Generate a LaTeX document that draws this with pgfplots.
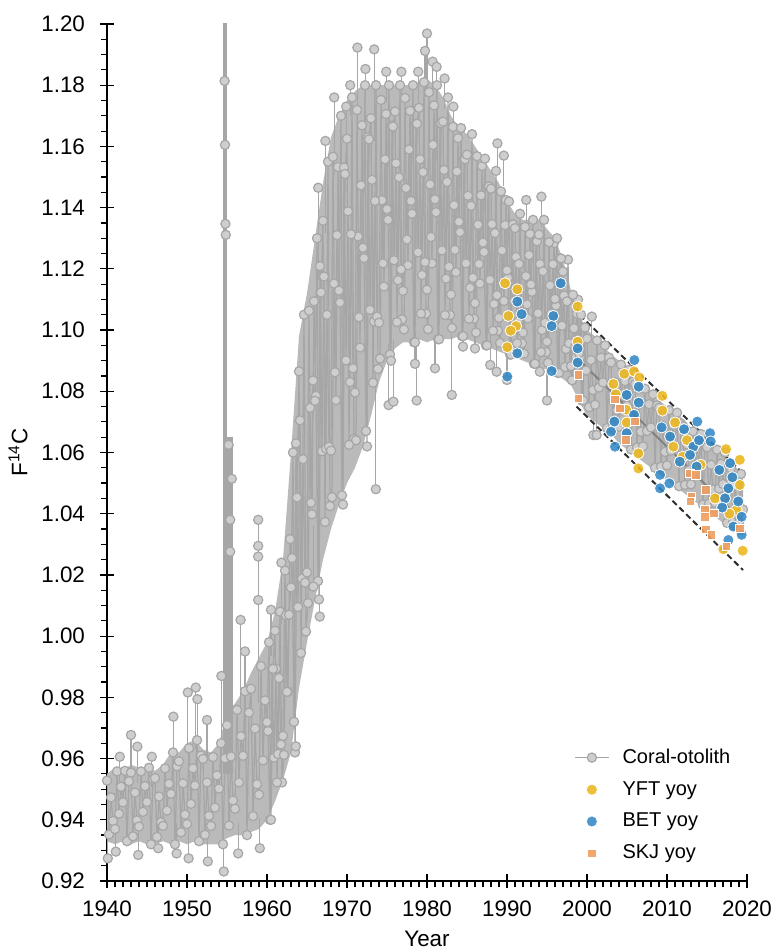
\documentclass[border=0pt]{standalone}
\usepackage{pgfplots}
\pgfplotsset{compat=1.18}
\usepackage{pgfplotstable}
\usepgfplotslibrary{fillbetween}
\usepackage{fontspec}
\setmainfont{Liberation Sans}
\definecolor{cgrey}{RGB}{166,166,166}
\definecolor{cfill}{RGB}{206,206,206}
\definecolor{blob}{RGB}{186,186,186}
\definecolor{yft}{RGB}{236,184,36}
\definecolor{bet}{RGB}{45,133,196}
\definecolor{skj}{RGB}{240,158,96}
\definecolor{regl}{RGB}{130,130,130}
\definecolor{dashc}{RGB}{45,45,45}

\pgfplotstableread[row sep=\\]{
x lo hi\\
1940 0.933 0.955\\ 1941 0.932 0.957\\ 1942 0.933 0.956\\ 1943 0.932 0.958\\
1944 0.933 0.957\\ 1945 0.932 0.957\\ 1946 0.932 0.956\\ 1947 0.933 0.958\\
1948 0.932 0.962\\ 1949 0.933 0.962\\ 1950 0.932 0.965\\ 1951 0.933 0.966\\
1952 0.932 0.963\\ 1953 0.932 0.962\\ 1954 0.932 0.965\\ 1955 0.934 0.975\\
1956 0.935 0.978\\ 1957 0.935 0.982\\ 1958 0.936 0.988\\ 1959 0.937 0.993\\
1960 0.940 0.998\\ 1961 0.946 1.008\\ 1962 0.953 1.025\\ 1963 0.962 1.060\\
1964 0.983 1.098\\ 1965 0.998 1.112\\ 1966 1.012 1.130\\ 1967 1.025 1.148\\
1968 1.035 1.163\\ 1969 1.043 1.170\\ 1970 1.050 1.175\\ 1971 1.055 1.178\\
1972 1.062 1.180\\ 1973 1.072 1.180\\ 1974 1.083 1.180\\ 1975 1.090 1.180\\
1976 1.094 1.180\\ 1977 1.096 1.180\\ 1978 1.096 1.180\\ 1979 1.097 1.181\\
1980 1.096 1.182\\ 1981 1.097 1.180\\ 1982 1.097 1.176\\ 1983 1.097 1.170\\
1984 1.098 1.166\\ 1985 1.097 1.164\\ 1986 1.096 1.160\\ 1987 1.095 1.156\\
1988 1.094 1.152\\ 1989 1.093 1.148\\ 1990 1.092 1.142\\ 1991 1.091 1.138\\
1992 1.090 1.136\\ 1993 1.089 1.136\\ 1994 1.088 1.136\\ 1995 1.087 1.133\\
1996 1.086 1.130\\ 1997 1.084 1.123\\ 1998 1.082 1.113\\ 1999 1.077 1.105\\
2000 1.072 1.100\\ 2001 1.070 1.098\\ 2002 1.068 1.095\\ 2003 1.066 1.092\\
2004 1.063 1.090\\ 2005 1.061 1.087\\ 2006 1.059 1.085\\ 2007 1.057 1.082\\
2008 1.055 1.079\\ 2009 1.053 1.077\\ 2010 1.051 1.075\\ 2011 1.049 1.073\\
2012 1.047 1.071\\ 2013 1.045 1.068\\ 2014 1.043 1.066\\ 2015 1.041 1.064\\
2016 1.039 1.062\\ 2017 1.037 1.060\\ 2018 1.035 1.057\\ 2019 1.033 1.054\\
2019.5 1.033 1.052\\
}\envtab

\pgfplotstableread[row sep=\\]{
x y\\
1940.00 .9528\\ 1940.25 .9352\\ 1940.50 .9473\\ 1940.75 .9396\\
1941.00 .9370\\ 1941.25 .9558\\ 1941.50 .9420\\ 1941.75 .9508\\
1942.00 .9457\\ 1942.25 .9560\\ 1942.50 .9330\\ 1942.75 .9526\\
1943.00 .9554\\ 1943.25 .9346\\ 1943.50 .9489\\ 1943.75 .9398\\
1944.00 .9378\\ 1944.25 .9558\\ 1944.50 .9426\\ 1944.75 .9510\\
1945.00 .9458\\ 1945.25 .9570\\ 1945.50 .9320\\ 1945.75 .9533\\
1946.00 .9536\\ 1946.25 .9344\\ 1946.50 .9476\\ 1946.75 .9392\\
1947.00 .9380\\ 1947.25 .9568\\ 1947.50 .9430\\ 1947.75 .9518\\
1948.00 .9485\\ 1948.25 .9620\\ 1948.50 .9320\\ 1948.75 .9575\\
1949.00 .9591\\ 1949.25 .9359\\ 1949.50 .9519\\ 1949.75 .9417\\
1950.00 .9386\\ 1950.25 .9634\\ 1950.50 .9452\\ 1950.75 .9568\\
1951.00 .9512\\ 1951.25 .9660\\ 1951.50 .9330\\ 1951.75 .9610\\
1952.00 .9599\\ 1952.25 .9351\\ 1952.50 .9522\\ 1952.75 .9413\\
1953.00 .9380\\ 1953.25 .9605\\ 1953.50 .9440\\ 1953.75 .9545\\
1954.00 .9502\\ 1954.25 .9650\\ 1954.50 .9320\\ 1954.75 .9601\\
1955.00 .9709\\ 1955.25 .9381\\ 1955.50 .9607\\ 1955.75 .9463\\
1956.00 .9436\\ 1956.25 .9759\\ 1956.50 .9522\\ 1956.75 .9673\\
1957.00 .9609\\ 1957.25 .9820\\ 1957.50 .9350\\ 1957.75 .9750\\
1958.00 .9828\\ 1958.25 .9412\\ 1958.50 .9698\\ 1958.75 .9516\\
1959.00 .9482\\ 1959.25 .9902\\ 1959.50 .9594\\ 1959.75 .9790\\
1960.00 .9719\\ 1960.25 .9980\\ 1960.50 .9400\\ 1960.75 .9893\\
1961.00 1.0018\\ 1961.25 .9522\\ 1961.50 .9863\\ 1961.75 .9646\\
1962.00 .9674\\ 1962.25 1.0214\\ 1962.50 .9818\\ 1962.75 1.0070\\
1963.00 1.0159\\ 1963.25 1.0600\\ 1963.50 .9620\\ 1963.75 1.0453\\
1964.00 1.0865\\ 1964.25 .9945\\ 1964.50 1.0578\\ 1964.75 1.0175\\
1965.00 1.0208\\ 1965.25 1.1063\\ 1965.50 1.0436\\ 1965.75 1.0835\\
1966.00 1.0769\\ 1966.25 1.1300\\ 1966.50 1.0120\\ 1966.75 1.1123\\
1967.00 1.1357\\ 1967.25 1.0373\\ 1967.50 1.1050\\ 1967.75 1.0619\\
1968.00 1.0606\\ 1968.25 1.1566\\ 1968.50 1.0862\\ 1968.75 1.1310\\
1969.00 1.1129\\ 1969.25 1.1700\\ 1969.50 1.0430\\ 1969.75 1.1510\\
1970.00 1.1625\\ 1970.25 1.0625\\ 1970.50 1.1313\\ 1970.75 1.0875\\
1971.00 1.0796\\ 1971.25 1.1719\\ 1971.50 1.1042\\ 1971.75 1.1473\\
1972.00 1.1269\\ 1972.25 1.1800\\ 1972.50 1.0620\\ 1972.75 1.1623\\
1973.00 1.1692\\ 1973.25 1.0828\\ 1973.50 1.1422\\ 1973.75 1.1044\\
1974.00 1.1024\\ 1974.25 1.1752\\ 1974.50 1.1218\\ 1974.75 1.1558\\
1975.00 1.1395\\ 1975.25 1.1800\\ 1975.50 1.0900\\ 1975.75 1.1665\\
1976.00 1.1714\\ 1976.25 1.1026\\ 1976.50 1.1499\\ 1976.75 1.1198\\
1977.00 1.1128\\ 1977.25 1.1758\\ 1977.50 1.1296\\ 1977.75 1.1590\\
1978.00 1.1422\\ 1978.25 1.1800\\ 1978.50 1.0960\\ 1978.75 1.1674\\
1979.00 1.1726\\ 1979.25 1.1054\\ 1979.50 1.1516\\ 1979.75 1.1222\\
1980.00 1.1132\\ 1980.25 1.1777\\ 1980.50 1.1304\\ 1980.75 1.1605\\
1981.00 1.1427\\ 1981.25 1.1800\\ 1981.50 1.0970\\ 1981.75 1.1676\\
1982.00 1.1681\\ 1982.25 1.1049\\ 1982.50 1.1484\\ 1982.75 1.1207\\
1983.00 1.1116\\ 1983.25 1.1664\\ 1983.50 1.1262\\ 1983.75 1.1518\\
1984.00 1.1354\\ 1984.25 1.1660\\ 1984.50 1.0980\\ 1984.75 1.1558\\
1985.00 1.1573\\ 1985.25 1.1037\\ 1985.50 1.1406\\ 1985.75 1.1171\\
1986.00 1.1088\\ 1986.25 1.1568\\ 1986.50 1.1216\\ 1986.75 1.1440\\
1987.00 1.1286\\ 1987.25 1.1560\\ 1987.50 1.0950\\ 1987.75 1.1469\\
1988.00 1.1462\\ 1988.25 1.0998\\ 1988.50 1.1317\\ 1988.75 1.1114\\
1989.00 1.1040\\ 1989.25 1.1453\\ 1989.50 1.1150\\ 1989.75 1.1343\\
1990.00 1.1195\\ 1990.25 1.1420\\ 1990.50 1.0920\\ 1990.75 1.1345\\
1991.00 1.1333\\ 1991.25 1.0957\\ 1991.50 1.1216\\ 1991.75 1.1051\\
1992.00 1.0992\\ 1992.25 1.1337\\ 1992.50 1.1084\\ 1992.75 1.1245\\
1993.00 1.1149\\ 1993.25 1.1360\\ 1993.50 1.0890\\ 1993.75 1.1290\\
1994.00 1.1312\\ 1994.25 1.0928\\ 1994.50 1.1192\\ 1994.75 1.1024\\
1995.00 1.0962\\ 1995.25 1.1287\\ 1995.50 1.1054\\ 1995.75 1.1215\\
1996.00 1.1102\\ 1996.25 1.1300\\ 1996.50 1.0860\\ 1996.75 1.1234\\
1997.00 1.1191\\ 1997.25 1.0879\\ 1997.50 1.1094\\ 1997.75 1.0957\\
1998.00 1.0882\\ 1998.25 1.1115\\ 1998.50 1.0944\\ 1998.75 1.1053\\
1999.00 1.0924\\ 1999.25 1.1050\\ 1999.50 1.0770\\ 1999.75 1.1008\\
2000.00 1.0972\\ 2000.25 1.0748\\ 2000.50 1.0902\\ 2000.75 1.0804\\
2001.00 1.0756\\ 2001.25 1.0966\\ 2001.50 1.0812\\ 2001.75 1.0910\\
2002.00 1.0829\\ 2002.25 1.0950\\ 2002.50 1.0680\\ 2002.75 1.0910\\
2003.00 1.0894\\ 2003.25 1.0686\\ 2003.50 1.0829\\ 2003.75 1.0738\\
2004.00 1.0684\\ 2004.25 1.0887\\ 2004.50 1.0738\\ 2004.75 1.0833\\
2005.00 1.0753\\ 2005.25 1.0870\\ 2005.50 1.0610\\ 2005.75 1.0831\\
2006.00 1.0824\\ 2006.25 1.0616\\ 2006.50 1.0759\\ 2006.75 1.0668\\
2007.00 1.0620\\ 2007.25 1.0808\\ 2007.50 1.0670\\ 2007.75 1.0758\\
2008.00 1.0682\\ 2008.25 1.0790\\ 2008.50 1.0550\\ 2008.75 1.0754\\
2009.00 1.0746\\ 2009.25 1.0554\\ 2009.50 1.0686\\ 2009.75 1.0602\\
2010.00 1.0558\\ 2010.25 1.0738\\ 2010.50 1.0606\\ 2010.75 1.0690\\
2011.00 1.0622\\ 2011.25 1.0730\\ 2011.50 1.0490\\ 2011.75 1.0694\\
2012.00 1.0686\\ 2012.25 1.0494\\ 2012.50 1.0626\\ 2012.75 1.0542\\
2013.00 1.0496\\ 2013.25 1.0669\\ 2013.50 1.0542\\ 2013.75 1.0623\\
2014.00 1.0557\\ 2014.25 1.0660\\ 2014.50 1.0430\\ 2014.75 1.0626\\
2015.00 1.0617\\ 2015.25 1.0433\\ 2015.50 1.0560\\ 2015.75 1.0479\\
2016.00 1.0436\\ 2016.25 1.0609\\ 2016.50 1.0482\\ 2016.75 1.0563\\
2017.00 1.0497\\ 2017.25 1.0600\\ 2017.50 1.0370\\ 2017.75 1.0566\\
2018.00 1.0548\\ 2018.25 1.0372\\ 2018.50 1.0493\\ 2018.75 1.0416\\
2019.00 1.0372\\ 2019.25 1.0530\\ 2019.50 1.0414\\
}\coral

\pgfplotstableread[row sep=\\]{
x y\\
1960.125 .9690\\ 1960.375 .9400\\ 1960.625 .9893\\ 1960.875 .9603\\
1961.125 .9894\\ 1961.375 .9615\\ 1961.625 1.0080\\ 1961.875 .9522\\
1962.125 .9612\\ 1962.375 1.0068\\ 1962.625 .9819\\ 1962.875 1.0317\\
1963.125 1.0255\\ 1963.375 .9720\\ 1963.625 1.0630\\ 1963.875 1.0095\\
1964.125 1.0705\\ 1964.375 1.0188\\ 1964.625 1.1050\\ 1964.875 1.0015\\
1965.125 1.0108\\ 1965.375 1.0746\\ 1965.625 1.0398\\ 1965.875 1.1094\\
1966.125 1.0785\\ 1966.375 1.0180\\ 1966.625 1.1209\\ 1966.875 1.0604\\
1967.125 1.1175\\ 1967.375 1.0613\\ 1967.625 1.1550\\ 1967.875 1.0425\\
1968.125 1.0454\\ 1968.375 1.1152\\ 1968.625 1.0771\\ 1968.875 1.1533\\
1969.125 1.1090\\ 1969.375 1.0460\\ 1969.625 1.1531\\ 1969.875 1.0901\\
1970.125 1.1388\\ 1970.375 1.0830\\ 1970.625 1.1760\\ 1970.875 1.0644\\
1971.125 1.0640\\ 1971.375 1.1306\\ 1971.625 1.0943\\ 1971.875 1.1669\\
1972.125 1.1235\\ 1972.375 1.0670\\ 1972.625 1.1630\\ 1972.875 1.1066\\
1973.125 1.1491\\ 1973.375 1.1028\\ 1973.625 1.1800\\ 1973.875 1.0873\\
1974.125 1.0907\\ 1974.375 1.1424\\ 1974.625 1.1142\\ 1974.875 1.1706\\
1975.125 1.1360\\ 1975.375 1.0920\\ 1975.625 1.1668\\ 1975.875 1.1228\\
1976.125 1.1545\\ 1976.375 1.1163\\ 1976.625 1.1800\\ 1976.875 1.1035\\
1977.125 1.1002\\ 1977.375 1.1464\\ 1977.625 1.1212\\ 1977.875 1.1716\\
1978.125 1.1380\\ 1978.375 1.0960\\ 1978.625 1.1674\\ 1978.875 1.1254\\
1979.125 1.1558\\ 1979.375 1.1180\\ 1979.625 1.1810\\ 1979.875 1.1054\\
1980.125 1.1003\\ 1980.375 1.1476\\ 1980.625 1.1218\\ 1980.875 1.1734\\
1981.125 1.1385\\ 1981.375 1.0970\\ 1981.625 1.1676\\ 1981.875 1.1260\\
1982.125 1.1523\\ 1982.375 1.1168\\ 1982.625 1.1760\\ 1982.875 1.1049\\
1983.125 1.1007\\ 1983.375 1.1408\\ 1983.625 1.1189\\ 1983.875 1.1627\\
1984.125 1.1320\\ 1984.375 1.0980\\ 1984.625 1.1558\\ 1984.875 1.1218\\
1985.125 1.1439\\ 1985.375 1.1138\\ 1985.625 1.1640\\ 1985.875 1.1037\\
1986.125 1.0992\\ 1986.375 1.1344\\ 1986.625 1.1152\\ 1986.875 1.1536\\
1987.125 1.1255\\ 1987.375 1.0950\\ 1987.625 1.1469\\ 1987.875 1.1164\\
1988.125 1.1346\\ 1988.375 1.1085\\ 1988.625 1.1520\\ 1988.875 1.0998\\
1989.125 1.0958\\ 1989.375 1.1260\\ 1989.625 1.1095\\ 1989.875 1.1425\\
1990.125 1.1170\\ 1990.375 1.0920\\ 1990.625 1.1345\\ 1990.875 1.1095\\
1991.125 1.1239\\ 1991.375 1.1028\\ 1991.625 1.1380\\ 1991.875 1.0957\\
1992.125 1.0923\\ 1992.375 1.1176\\ 1992.625 1.1038\\ 1992.875 1.1314\\
1993.125 1.1125\\ 1993.375 1.0890\\ 1993.625 1.1290\\ 1993.875 1.1055\\
1994.125 1.1216\\ 1994.375 1.1000\\ 1994.625 1.1360\\ 1994.875 1.0928\\
1995.125 1.0893\\ 1995.375 1.1146\\ 1995.625 1.1008\\ 1995.875 1.1284\\
1996.125 1.1080\\ 1996.375 1.0860\\ 1996.625 1.1234\\ 1996.875 1.1014\\
1997.125 1.1113\\ 1997.375 1.0938\\ 1997.625 1.1230\\ 1997.875 1.0879\\
1998.125 1.0836\\ 1998.375 1.1006\\ 1998.625 1.0913\\ 1998.875 1.1099\\
1999.125 1.0910\\ 1999.375 1.0770\\ 1999.625 1.1008\\ 1999.875 1.0868\\
}\coraltwo

\pgfplotstableread[row sep=\\]{
x y ep em\\
1940.1 0.9274 0.01 0\\ 1941.1 0.9296 0.01 0\\ 1941.6 0.9606 0 0.01\\
1943.0 0.9677 0 0.015\\ 1943.8 0.9639 0 0.012\\ 1943.9 0.9285 0.01 0\\
1945.6 0.9606 0 0.01\\ 1946.4 0.9307 0.01 0\\ 1948.3 0.9737 0 0.015\\
1948.7 0.9290 0.01 0\\ 1950.1 0.9816 0 0.02\\ 1950.2 0.9274 0.01 0\\
1951.1 0.9832 0 0.02\\ 1951.3 0.9794 0 0.015\\ 1952.5 0.9726 0 0.012\\
1952.6 0.9264 0.01 0\\ 1954.3 0.9870 0 0.025\\ 1954.6 0.9231 0.012 0\\
1954.7 1.1814 0 0\\ 1954.75 1.1605 0 0\\ 1954.8 1.1347 0 0\\
1954.85 1.1311 0 0\\ 1955.2 1.0625 0 0\\ 1955.6 1.0514 0 0.08\\
1955.4 1.0380 0 0\\ 1955.4 1.0276 0 0\\ 1956.4 0.9290 0.01 0\\
1956.7 1.0053 0 0.03\\ 1957.25 0.9950 0 0.02\\ 1958.9 1.0380 0 0.06\\
1958.9 1.0295 0 0\\ 1958.9 1.0260 0 0\\ 1958.9 1.0118 0 0\\
1959.1 0.9307 0.01 0\\ 1960.5 1.0086 0 0.015\\ 1961.8 1.0240 0 0.02\\
1963.6 0.9640 0.02 0\\ 1965.8 1.0162 0.02 0\\ 1966.6 1.0064 0.02 0\\
1966.4 1.1465 0 0.03\\ 1967.3 1.1618 0 0.03\\ 1968.4 1.1760 0 0.025\\
1969.9 1.1730 0 0.01\\ 1970.4 1.1800 0 0.01\\ 1971.3 1.1923 0 0.03\\
1972.3 1.1853 0 0.01\\ 1973.4 1.1917 0 0.03\\ 1973.6 1.0480 0.04 0\\
1974.9 1.1844 0 0.01\\ 1975.2 1.0755 0.02 0\\ 1975.8 1.0766 0.02 0\\
1976.8 1.1844 0 0.01\\ 1978.5 1.0890 0.01 0\\ 1978.7 1.0770 0.02 0\\
1978.9 1.1844 0 0.01\\ 1979.75 1.1912 0 0.015\\ 1980.0 1.1969 0 0.02\\
1980.7 1.1877 0 0.01\\ 1981.0 1.0875 0.01 0\\ 1981.2 1.1860 0 0.01\\
1982.2 1.1822 0 0.01\\ 1983.1 1.0788 0.02 0\\ 1983.3 1.1730 0 0.005\\
1984.5 1.0946 0.005 0\\ 1986.0 1.0940 0.005 0\\ 1987.9 1.0886 0.01 0\\
1988.7 1.0864 0.01 0\\ 1988.8 1.1610 0 0.01\\ 1989.6 1.1570 0 0.01\\
1990.0 1.0837 0.01 0\\ 1992.4 1.1425 0 0.01\\ 1994.1 1.0864 0.005 0\\
1994.3 1.1436 0 0.01\\ 1995.0 1.0770 0.012 0\\ 2000.6 1.1044 0 0.008\\
2000.8 1.0657 0.01 0\\ 2001.2 1.0657 0.01 0\\ 2003.3 1.0770 0 0\\
}\outl

\pgfplotstableread[row sep=\\]{
x y\\
1989.75 1.1153\\ 1991.29 1.1133\\ 1990.17 1.1046\\ 1991.13 1.1013\\
1990.46 1.0998\\ 1990.04 1.0944\\ 1998.83 1.1077\\ 1998.83 1.0962\\
2003.29 1.0824\\ 2004.67 1.0857\\ 2005.88 1.0865\\ 2006.54 1.0845\\
2003.60 1.0790\\ 2004.90 1.0740\\ 2009.42 1.0785\\ 2009.42 1.0737\\
2011.00 1.0698\\ 2004.96 1.0698\\ 2006.42 1.0597\\ 2006.42 1.0548\\
2010.80 1.0619\\ 2011.96 1.0586\\ 2017.38 1.0611\\ 2019.10 1.0576\\
2019.10 1.0494\\ 2018.70 1.0412\\ 2017.04 1.0284\\ 2019.46 1.0279\\
2012.50 1.0640\\ 2014.20 1.0560\\ 2016.00 1.0450\\ 2017.80 1.0400\\
}\yft

\pgfplotstableread[row sep=\\]{
x y\\
1996.71 1.1153\\ 1991.29 1.1093\\ 1991.83 1.1052\\ 1995.79 1.1046\\
1995.58 1.1013\\ 1991.29 1.0924\\ 1990.04 1.0848\\ 1995.58 1.0866\\
1998.83 1.0940\\ 1998.83 1.0894\\ 2005.92 1.0902\\ 2006.46 1.0815\\
2004.96 1.0788\\ 2006.46 1.0763\\ 2003.42 1.0701\\ 2003.00 1.0668\\
2004.96 1.0663\\ 2003.50 1.0619\\ 2005.88 1.0723\\ 2009.33 1.0682\\
2010.38 1.0652\\ 2012.13 1.0676\\ 2013.79 1.0701\\ 2013.29 1.0619\\
2015.38 1.0663\\ 2015.46 1.0636\\ 2016.54 1.0543\\ 2017.88 1.0565\\
2018.17 1.0519\\ 2009.13 1.0527\\ 2010.29 1.0499\\ 2009.13 1.0483\\
2013.70 1.0554\\ 2017.67 1.0483\\ 2017.25 1.0450\\ 2019.33 1.0390\\
2018.29 1.0358\\ 2019.33 1.0331\\ 2017.67 1.0314\\ 2012.88 1.0592\\
2011.60 1.0570\\ 2014.00 1.0640\\ 2016.90 1.0420\\ 2018.90 1.0440\\
}\bet

\pgfplotstableread[row sep=\\]{
x y\\
1998.96 1.0853\\ 1998.96 1.0777\\ 2003.50 1.0774\\ 2004.10 1.0744\\
2006.00 1.0701\\ 2004.88 1.0641\\ 2012.88 1.0532\\ 2013.60 1.0527\\
2014.88 1.0478\\ 2013.08 1.0456\\ 2012.96 1.0440\\ 2014.75 1.0412\\
2015.88 1.0401\\ 2014.75 1.0390\\ 2019.10 1.0352\\ 2014.88 1.0349\\
2015.58 1.0331\\ 2017.46 1.0293\\
}\skj

\begin{document}
\begin{tikzpicture}
\begin{axis}[
  scale only axis, width=320pt, height=428.5pt,
  xmin=1940, xmax=2020, ymin=0.92, ymax=1.20,
  axis x line*=bottom, axis y line*=left,
  axis line style={black, line width=0.6pt},
  xtick={1940,1950,1960,1970,1980,1990,2000,2010,2020},
  ytick={0.92,0.94,0.96,0.98,1.00,1.02,1.04,1.06,1.08,1.10,1.12,1.14,1.16,1.18,1.20},
  minor x tick num=9, minor y tick num=3,
  tick align=center,
  major tick length=7pt, minor tick length=3pt,
  every tick/.style={black, line width=0.6pt},
  minor x tick style={yshift=-1.5pt},
  minor y tick style={xshift=-1.5pt},
  tick label style={font=\fontsize{11.2}{13}\selectfont},
  /pgf/number format/assume math mode=true,
  xticklabel style={/pgf/number format/1000 sep={}, yshift=-3pt},
  yticklabel style={/pgf/number format/.cd, fixed, fixed zerofill, precision=2, /tikz/xshift=-4pt},
  xlabel={Year}, ylabel={F\textsuperscript{14}C},
  label style={font=\fontsize{11.2}{13}\selectfont},
  legend cell align=left,
  legend style={draw=none, fill=none, at={(0.72,0.164)}, anchor=north west,
    font=\fontsize{10}{12}\selectfont, row sep=3.5pt,
    /tikz/every odd column/.append style={column sep=4.5pt}},
]
\addplot[draw=none, name path=hi, forget plot] table[x=x, y=hi] {\envtab};
\addplot[draw=none, name path=lo, forget plot] table[x=x, y=lo] {\envtab};
\addplot[blob, forget plot] fill between[of=hi and lo];

\addplot[cgrey, line width=2.2pt, forget plot] coordinates {(1954.75,0.955) (1954.75,1.25)};
\addplot[cgrey, line width=3pt, forget plot] coordinates {(1955.4,0.955) (1955.4,1.065)};

\addplot[cgrey, line width=0.6pt, mark=*, mark size=2.3pt, forget plot,
  mark options={draw=cgrey, fill=cfill, line width=0.6pt}] table[x=x, y=y] {\coraltwo};

\addplot[cgrey, line width=0.6pt, mark=*, mark size=2.3pt,
  mark options={draw=cgrey, fill=cfill, line width=0.6pt}] table[x=x, y=y] {\coral};
\addlegendentry{Coral-otolith}

\addplot[only marks, mark=*, mark size=2.3pt, forget plot,
  mark options={draw=cgrey, fill=cfill, line width=0.6pt},
  error bars/.cd, y dir=both, y explicit, error mark=none,
  error bar style={cgrey, line width=0.6pt}]
  table[x=x, y=y, y error plus=ep, y error minus=em] {\outl};

\addplot[regl, line width=1pt, forget plot] coordinates {(1999.1,1.0900) (2019.5,1.0374)};
\addplot[dashc, line width=1pt, dash pattern=on 3pt off 1.8pt, forget plot]
  coordinates {(1999.1,1.1049) (2019.5,1.0532)};
\addplot[dashc, line width=1pt, dash pattern=on 3pt off 1.8pt, forget plot]
  coordinates {(1998.7,1.0750) (2019.5,1.0216)};

\addplot[only marks, mark=*, mark size=2.8pt,
  mark options={draw=white, fill=yft, line width=0.4pt, fill opacity=0.9}] table[x=x, y=y] {\yft};
\addlegendentry{YFT yoy}
\addplot[only marks, mark=*, mark size=2.8pt,
  mark options={draw=white, fill=bet, line width=0.4pt, fill opacity=0.85}] table[x=x, y=y] {\bet};
\addlegendentry{BET yoy}
\addplot[only marks, mark=square*, mark size=2.1pt,
  mark options={draw=white, fill=skj, line width=0.4pt, fill opacity=0.9}] table[x=x, y=y] {\skj};
\addlegendentry{SKJ yoy}
\end{axis}
\pgfresetboundingbox
\path[use as bounding box] (-53.5pt,-35pt) rectangle (333.5pt,440.5pt);
\end{tikzpicture}
\end{document}
